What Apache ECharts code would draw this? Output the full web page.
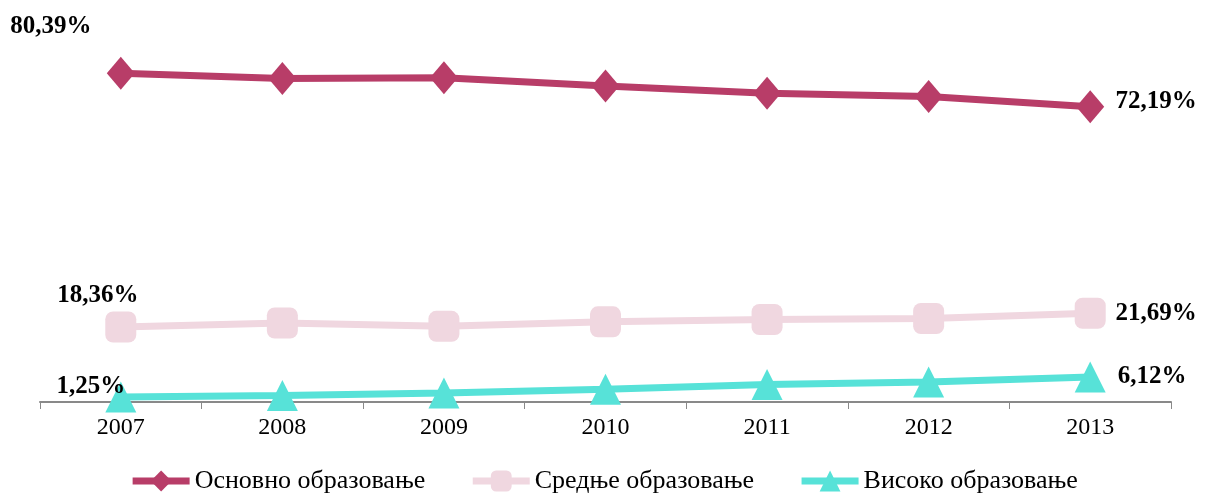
<!DOCTYPE html>
<html>
<head>
<meta charset="utf-8">
<script src="https://cdn.jsdelivr.net/npm/echarts@6/dist/echarts.min.js"></script>
<style>
html,body{margin:0;padding:0;background:#fff;}
#chart{width:1207px;height:495px;}
</style>
</head>
<body>
<div id="chart"></div>
<script>
var categories = ['2007', '2008', '2009', '2010', '2011', '2012', '2013'];
var seriesNames = ['Основно образовање', 'Средње образовање', 'Високо образовање'];
var osnovno = [80.39, 79.1, 79.3, 77.3, 75.5, 74.7, 72.19];
var srednje = [18.36, 19.3, 18.5, 19.6, 20.2, 20.4, 21.69];
var visoko = [1.25, 1.6, 2.2, 3.1, 4.3, 4.9, 6.12];

var colors = ['#B83D68', '#F0D7E0', '#57E2D8'];
var firstOffsets = [[-70, -47], [-23, -31], [-30, -10]];
var lastOffsets = [[66, -5], [66, 0], [62, 0]];

function fmt(v) { return v.toFixed(2).replace('.', ',') + '%'; }

function buildData(arr, idx) {
  return arr.map(function (v, i) {
    var item = { value: v };
    if (i === 0 || i === arr.length - 1) {
      item.label = {
        show: true,
        position: 'inside',
        offset: i === 0 ? firstOffsets[idx] : lastOffsets[idx],
        formatter: function (p) { return fmt(p.value); },
        fontFamily: '"Liberation Serif", "Times New Roman", serif',
        fontWeight: 'bold',
        fontSize: 25,
        color: '#000'
      };
    }
    return item;
  });
}

var symbols = ['diamond', 'roundRect', 'triangle'];
var sizes = [[28, 33], 31, 31];
var values = [osnovno, srednje, visoko];

var chart = echarts.init(document.getElementById('chart'), null, { renderer: 'canvas' });
chart.setOption({
  animation: false,
  grid: { left: 40, right: 36, top: 34, bottom: 93 },
  legend: {
    top: 463,
    left: 'center',
    itemWidth: 57,
    itemHeight: 26,
    itemGap: 44,
    lineStyle: { width: 7 },
    textStyle: {
      fontFamily: '"Liberation Serif", "Times New Roman", serif',
      fontSize: 26,
      color: '#000'
    },
    data: seriesNames
  },
  xAxis: {
    type: 'category',
    data: categories,
    boundaryGap: true,
    axisLine: { lineStyle: { color: '#898989', width: 2 } },
    axisTick: { show: true, length: 7, lineStyle: { color: '#898989', width: 1 } },
    axisLabel: {
      fontFamily: '"Liberation Serif", "Times New Roman", serif',
      fontSize: 24,
      color: '#000',
      margin: 14
    },
    splitLine: { show: false }
  },
  yAxis: {
    type: 'value',
    min: 0,
    max: 90,
    show: false,
    splitLine: { show: false }
  },
  series: seriesNames.map(function (name, idx) {
    return {
      name: name,
      type: 'line',
      data: buildData(values[idx], idx),
      symbol: symbols[idx],
      symbolSize: sizes[idx],
      showAllSymbol: true,
      lineStyle: { color: colors[idx], width: 7 },
      itemStyle: { color: colors[idx] },
      emphasis: { disabled: true },
      z: 3 - idx
    };
  })
});
</script>
</body>
</html>
